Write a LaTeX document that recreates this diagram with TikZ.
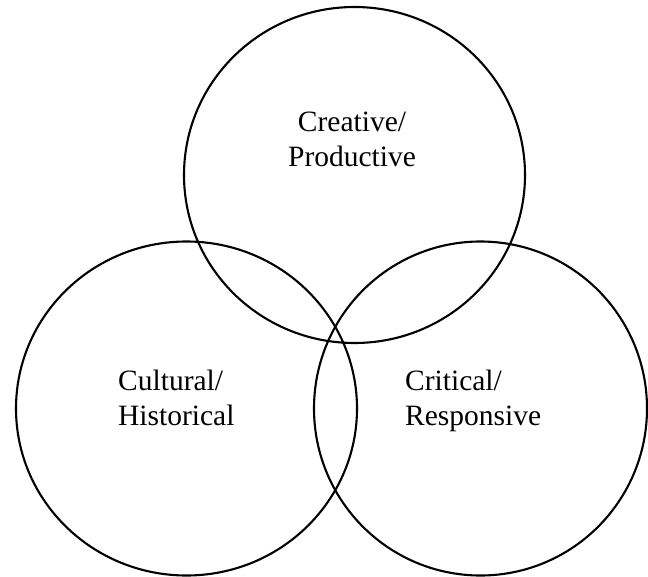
\documentclass[tikz,border=0pt]{standalone}
\usepackage{fontspec}
\setmainfont{Liberation Serif}
\begin{document}
\begin{tikzpicture}[x=1bp,y=-1bp,
  ring/.style={draw=black,line width=2.1bp},
  lbl/.style={inner sep=0pt,font=\fontsize{29.6}{35}\selectfont}]
\useasboundingbox (0,0) rectangle (648,577);
\coordinate (ctop) at (354.5,175);
\coordinate (cleft) at (186.5,408.5);
\coordinate (cright) at (480.5,408.5);
\draw[ring] (ctop) ellipse [x radius=170.5, y radius=168];
\draw[ring] (cleft) ellipse [x radius=170.5, y radius=167];
\draw[ring] (cright) ellipse [x radius=166.5, y radius=167];
\node[lbl,anchor=base] (t1) at (352,132) {Creative/};
\node[lbl,anchor=base] (t2) at (352,167) {Productive};
\node[lbl,anchor=base west] (l1) at (118,390) {Cultural/};
\node[lbl,anchor=base west] (l2) at (118,425) {Historical};
\node[lbl,anchor=base west] (r1) at (405,390) {Critical/};
\node[lbl,anchor=base west] (r2) at (405,425) {Responsive};
\end{tikzpicture}
\end{document}
